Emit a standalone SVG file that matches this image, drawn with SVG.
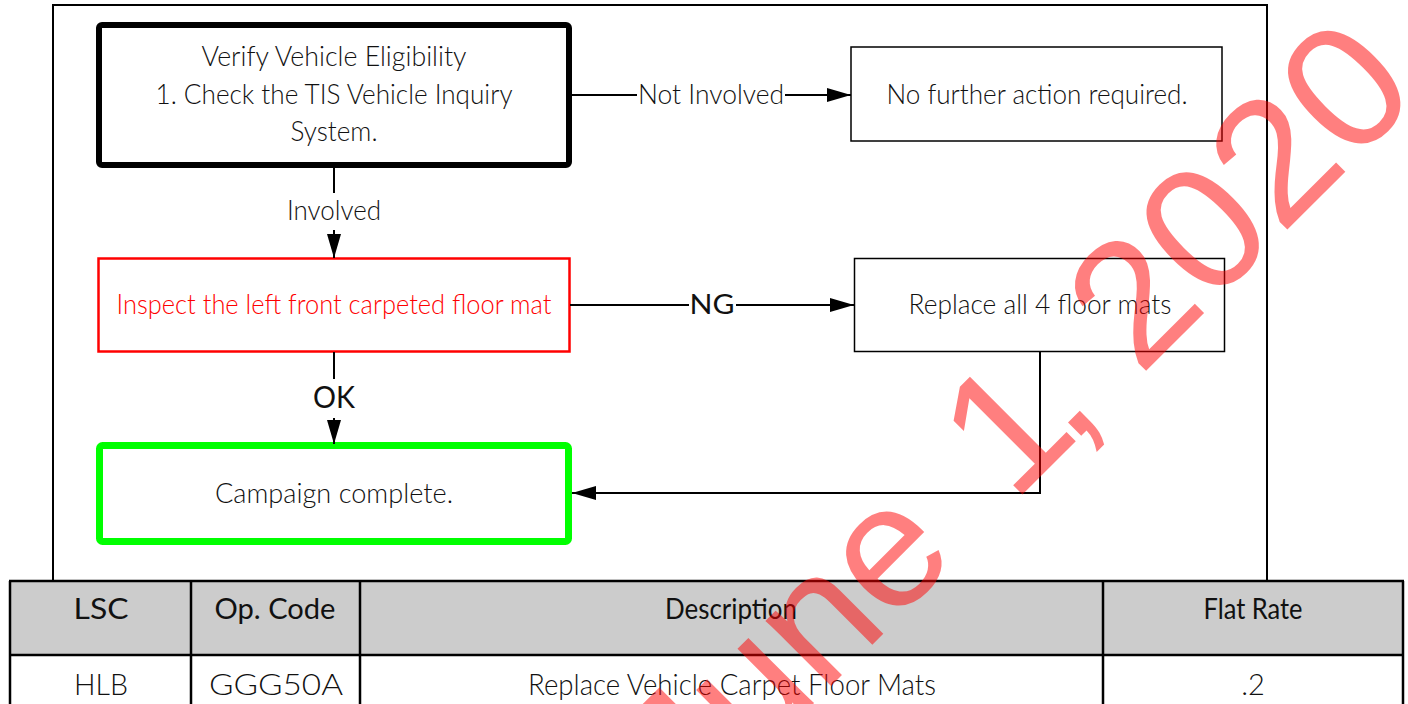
<svg xmlns="http://www.w3.org/2000/svg" width="1408" height="704" viewBox="0 0 1408 704">
<defs>
<style>
.t{font-family:Lato,"Open Sans","Liberation Sans",sans-serif;font-weight:300;fill:#111;text-anchor:middle;font-size:27px}
.reg{font-weight:400}
.edge{stroke:#000;stroke-width:2;fill:none}
.tb{stroke:#000;stroke-width:2.5;fill:none}
.wm{font-family:"Liberation Sans",Arial,sans-serif;font-size:175px;fill:#ff0000;fill-opacity:0.5}
</style>
<marker id="ah" viewBox="0 0 24 14" refX="24" refY="7" markerWidth="24" markerHeight="14" markerUnits="userSpaceOnUse" orient="auto"><path d="M0,0 L24,7 L0,14 z" fill="#000"/></marker>
</defs>
<rect width="1408" height="704" fill="#fff"/>
<rect id="frame" x="53" y="5" width="1214" height="576" fill="none" stroke="#000" stroke-width="2"/>

<g id="n1">
<rect x="99" y="25" width="470" height="140" rx="3" fill="#fff" stroke="#000" stroke-width="6"/>
<text class="t" x="334" y="66" textLength="265" lengthAdjust="spacingAndGlyphs">Verify Vehicle Eligibility</text>
<text class="t" x="334" y="104" textLength="357" lengthAdjust="spacingAndGlyphs">1. Check the TIS Vehicle Inquiry</text>
<text class="t" x="334" y="141" textLength="87" lengthAdjust="spacingAndGlyphs">System.</text>
</g>
<g id="n2">
<rect x="851" y="47" width="371" height="94" fill="#fff" stroke="#000" stroke-width="1.5"/>
<text class="t" x="1037" y="104" textLength="301" lengthAdjust="spacingAndGlyphs">No further action required.</text>
</g>
<g id="n3">
<rect x="98.5" y="258.5" width="471" height="93" fill="#fff" stroke="#ff0000" stroke-width="2.5"/>
<text class="t" x="334" y="314" style="fill:#ff0000" textLength="435" lengthAdjust="spacingAndGlyphs">Inspect the left front carpeted floor mat</text>
</g>
<g id="n4">
<rect x="854.5" y="258.5" width="370" height="93" fill="#fff" stroke="#000" stroke-width="1.5"/>
<text class="t" x="1040" y="314" textLength="263" lengthAdjust="spacingAndGlyphs">Replace all 4 floor mats</text>
</g>
<g id="n5">
<rect x="99.5" y="445.5" width="469" height="96" rx="3" fill="#fff" stroke="#00ff00" stroke-width="7"/>
<text class="t" x="334" y="503" textLength="238" lengthAdjust="spacingAndGlyphs">Campaign complete.</text>
</g>

<g id="connectors">
<path class="edge" d="M572,95 H637"/>
<path class="edge" d="M785,95 H851" marker-end="url(#ah)"/>
<text class="t" x="711" y="104" textLength="146" lengthAdjust="spacingAndGlyphs">Not Involved</text>
<path class="edge" d="M334,168 V193"/>
<path class="edge" d="M334,230 V258" marker-end="url(#ah)"/>
<text class="t" x="334" y="220" textLength="94" lengthAdjust="spacingAndGlyphs">Involved</text>
<path class="edge" d="M570,305 H689"/>
<path class="edge" d="M736,305 H854" marker-end="url(#ah)"/>
<text class="t reg" x="712" y="314" textLength="45" lengthAdjust="spacingAndGlyphs">NG</text>
<path class="edge" d="M334,352 V379"/>
<path class="edge" d="M334,418 V444" marker-end="url(#ah)"/>
<text class="t reg" x="334" y="408" style="font-size:30px" textLength="42" lengthAdjust="spacingAndGlyphs">OK</text>
<path class="edge" d="M1040,352 V493 H572" marker-end="url(#ah)"/>
</g>

<g id="table">
<rect x="10" y="581" width="1393" height="74" fill="#cccccc"/>
<path class="tb" d="M9,581 H1404 M9,655 H1404 M10,581 V704 M191,581 V704 M360,581 V704 M1103,581 V704 M1403,581 V704"/>
<text class="t reg" x="101" y="619" style="font-size:29px" textLength="55" lengthAdjust="spacingAndGlyphs">LSC</text>
<text class="t reg" x="275" y="619" style="font-size:29px" textLength="121" lengthAdjust="spacingAndGlyphs">Op. Code</text>
<text class="t reg" x="731" y="619" style="font-size:29px" textLength="132" lengthAdjust="spacingAndGlyphs">Description</text>
<text class="t reg" x="1253" y="619" style="font-size:29px" textLength="99" lengthAdjust="spacingAndGlyphs">Flat Rate</text>
<text class="t" x="101" y="695" style="font-size:29px" textLength="54" lengthAdjust="spacingAndGlyphs">HLB</text>
<text class="t" x="276" y="695" style="font-size:29px" textLength="134" lengthAdjust="spacingAndGlyphs">GGG50A</text>
<text class="t" x="732" y="695" style="font-size:29px" textLength="408" lengthAdjust="spacingAndGlyphs">Replace Vehicle Carpet Floor Mats</text>
<text class="t" x="1253" y="695" style="font-size:29px">.2</text>
</g>

<g id="watermark" transform="translate(758.5,758.5) rotate(-45)">
<text class="wm" x="285" y="0" text-anchor="end">June</text>
<text class="wm" x="360" y="0">1</text>
<text class="wm" x="440" y="0">,</text>
<text class="wm" x="539" y="0" textLength="400" lengthAdjust="spacingAndGlyphs">2020</text>
</g>
</svg>
